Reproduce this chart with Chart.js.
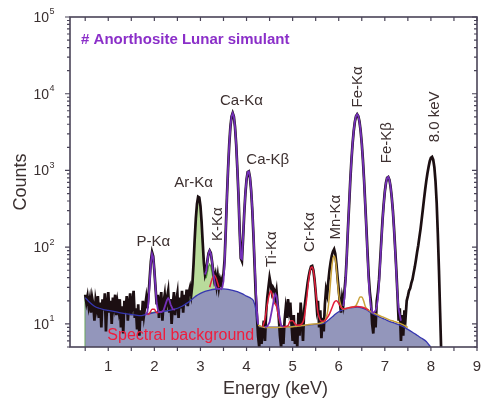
<!DOCTYPE html>
<html>
<head>
<meta charset="utf-8">
<title>Anorthosite Lunar simulant - XRF spectrum</title>
<script src="https://cdn.jsdelivr.net/npm/chart.js@4.4.0/dist/chart.umd.min.js"></script>
<style>
    body { margin: 0; background: #fff; }
    canvas { display: block; }
</style>
</head>
<body>
<canvas id="spectrumChart" width="489" height="399"></canvas>
<script>
// measured spectrum (counts per channel, 0.025 keV channels)
var energy = [
    0.5,0.525,0.55,0.575,0.6,0.625,0.65,0.675,0.7,0.725,
    0.75,0.775,0.8,0.825,0.85,0.875,0.9,0.925,0.95,0.975,
    1,1.025,1.05,1.075,1.1,1.125,1.15,1.175,1.2,1.225,
    1.25,1.275,1.3,1.325,1.35,1.375,1.4,1.425,1.45,1.475,
    1.5,1.525,1.55,1.575,1.6,1.625,1.65,1.675,1.7,1.725,
    1.75,1.775,1.8,1.825,1.85,1.875,1.9,1.925,1.95,1.975,
    2,2.025,2.05,2.075,2.1,2.125,2.15,2.175,2.2,2.225,
    2.25,2.275,2.3,2.325,2.35,2.375,2.4,2.425,2.45,2.475,
    2.5,2.525,2.55,2.575,2.6,2.625,2.65,2.675,2.7,2.725,
    2.75,2.775,2.8,2.825,2.85,2.875,2.9,2.925,2.95,2.975,
    3,3.025,3.05,3.075,3.1,3.125,3.15,3.175,3.2,3.225,
    3.25,3.275,3.3,3.325,3.35,3.375,3.4,3.425,3.45,3.475,
    3.5,3.525,3.55,3.575,3.6,3.625,3.65,3.675,3.7,3.725,
    3.75,3.775,3.8,3.825,3.85,3.875,3.9,3.925,3.95,3.975,
    4,4.025,4.05,4.075,4.1,4.125,4.15,4.175,4.2,4.225,
    4.25,4.275,4.3,4.325,4.35,4.375,4.4,4.425,4.45,4.475,
    4.5,4.525,4.55,4.575,4.6,4.625,4.65,4.675,4.7,4.725,
    4.75,4.775,4.8,4.825,4.85,4.875,4.9,4.925,4.95,4.975,
    5,5.025,5.05,5.075,5.1,5.125,5.15,5.175,5.2,5.225,
    5.25,5.275,5.3,5.325,5.35,5.375,5.4,5.425,5.45,5.475,
    5.5,5.525,5.55,5.575,5.6,5.625,5.65,5.675,5.7,5.725,
    5.75,5.775,5.8,5.825,5.85,5.875,5.9,5.925,5.95,5.975,
    6,6.025,6.05,6.075,6.1,6.125,6.15,6.175,6.2,6.225,
    6.25,6.275,6.3,6.325,6.35,6.375,6.4,6.425,6.45,6.475,
    6.5,6.525,6.55,6.575,6.6,6.625,6.65,6.675,6.7,6.725,
    6.75,6.775,6.8,6.825,6.85,6.875,6.9,6.925,6.95,6.975,
    7,7.025,7.05,7.075,7.1,7.125,7.15,7.175,7.2,7.225,
    7.25,7.275,7.3,7.325,7.35,7.375,7.4,7.425,7.45,7.475,
    7.5,7.525,7.55,7.575,7.6,7.625,7.65,7.675,7.7,7.725,
    7.75,7.775,7.8,7.825,7.85,7.875,7.9,7.925,7.95,7.975,
    8,8.025,8.05,8.075,8.1,8.125,8.15,8.175,8.2,8.225,
    8.25
];
var counts = [
    24,19,23,17,21,14,22,18,11,20,
    16,23,12,19,9,21,15,25,8,18,
    26,14,20,10,22,17,24,13,19,15,
    21,9,17,7.5,20,14,23,11,18,25,
    13,19,27,12,16,8.5,18,7,15,11,
    20,13,17,22,16,24,40,66,86,76,
    50,30,18,24,12,20,26,11,19,24,
    15,22,27,14,21,10,18,26,13,20,
    25,12,22,16,27,14,24,18,28,17,
    26,30,24,33,60,126,237,367,454,444,
    344,214,113,62,44,50,66,83,90,84,
    66,50,38,44,32,42,30,38,33,40,
    45,70,170,455,1070,2200,3700,5050,5600,5050,
    3700,2200,1070,480,170,72,66,130,275,500,
    760,950,970,805,550,305,142,58,24,13,
    7,5,9,5.5,8,11,6,14,22,30,
    40,33,26,30,28,22,27,18,12,7,
    5,9,5.5,11,16,12,21,15,19,10,
    6,13,5.5,9,5,14,7,19,11,6,
    15,20,26,34,42,50,56,57,50,38,
    26,16,20,9,15,6.5,12,8,18,28,
    24,36,50,64,78,88,94,82,60,40,
    28,19,14,22,18,27,40,78,172,350,
    720,1330,2200,3250,4300,5100,5400,5100,4350,3300,
    2250,1370,750,370,180,85,42,26,19,10,
    7.5,14,9,20,26,38,68,125,225,360,
    530,690,800,820,755,615,450,300,175,95,
    50,24,11,16,6,13,7,15,12,20,
    23,27,29,34,38,46,55,68,86,105,
    135,172,230,310,420,560,730,920,1120,1320,
    1460,1500,1380,1100,720,380,150,50,14,4,
    2
];

// total fit (purple), null = gap between fitted regions
var fitEnergy = [
    1.8,1.825,1.85,1.875,1.9,1.925,1.95,1.975,2,2.025,2.05,2.075,2.1,2.15,2.2,2.25,2.275,2.3,2.325,2.35,2.4,2.45,
    2.46,
    3.1,3.125,3.15,3.175,3.2,3.225,3.25,3.275,3.3,3.325,3.35,3.4,3.45,3.475,3.5,3.525,3.55,3.575,3.6,3.625,
    3.65,3.675,3.7,3.725,3.75,3.775,3.8,3.825,3.85,3.875,3.9,3.925,3.95,3.975,4,4.025,4.05,4.075,4.1,4.125,
    4.15,4.175,4.2,4.225,4.25,
    4.3,
    4.4,4.45,4.5,4.55,4.6,4.625,4.65,4.7,4.75,4.8,
    4.9,
    6.1,6.125,6.15,6.175,6.2,6.225,6.25,6.275,6.3,6.325,6.35,6.375,6.4,6.425,6.45,6.475,6.5,6.525,6.55,6.575,
    6.6,6.625,6.65,6.675,6.7,6.725,6.75,6.775,6.8,6.825,6.85,6.875,6.9,6.925,6.95,6.975,7,7.025,7.05,7.075,
    7.1,7.125,7.15,7.175,7.2,7.225,7.25,7.275,7.3,7.35
];
var fitCounts = [
    13.2,13.4,14.5,20,36,62,82,74,50,30,19,15.5,14.3,14.3,15,18.5,20.5,21.5,20.5,18,15.5,15.3,
    null,
    44,49,65,82,90,83,66,48,37,31,29,28.6,28.8,30,36,64,164,452,1071,2211,
    3703,5050,5600,5050,3703,2211,1071,478,164,72,70,133,278,506,768,956,975,813,557,315,
    151,66,30,15,10,
    null,
    9.1,9.3,10.5,15,22,24.5,23,14,9.6,9.2,
    null,
    17,22,37,76,170,356,732,1346,2221,3276,4326,5111,5400,5111,4326,3276,2221,1346,732,356,
    170,76,37,22,16.5,14.5,14,14.3,15,17,21,34,62,119,216,353,520,683,796,824,
    758,620,451,293,170,90,46,24,15.5,11
];

// spectral background
var bgEnergy = [
    0.5,0.6,0.7,0.8,0.9,1,1.2,1.4,1.6,1.7,1.8,1.9,2,2.2,2.4,2.6,2.7,2.8,2.9,3,
    3.1,3.2,3.3,3.4,3.5,3.6,3.7,3.8,3.9,4,4.1,4.15,4.2,4.225,4.25,4.3,4.4,4.6,4.8,5,
    5.2,5.4,5.6,5.7,5.8,5.9,6,6.1,6.2,6.3,6.4,6.5,6.6,6.7,6.8,6.9,7,7.1,7.2,7.3,
    7.4,7.5,7.6,7.7,7.8,7.9,7.95,8,8.03
];
var bgCounts = [
    22,19,17,16,15.4,15,14.2,13.5,13,12.8,13.2,13.6,14,14.5,15.3,17,18.5,20.5,23,25,
    26.5,27.5,28.3,28.6,28.6,28.2,27.4,26.3,24.8,23,21.5,20,15.5,11.5,9.8,9.3,9.1,9.1,9.2,9.3,
    9.5,9.8,10,10.3,11.5,13,14.4,15.3,15.9,16.3,16.5,16.2,15.3,14,13,12.2,11.5,10.8,10.3,9.8,
    9.2,8.5,7.8,7.1,6.5,5.9,5.4,4.9,4.4
];

// Ar-K / K-K components (green, filled)
var arEnergy = [
    0.5,0.5,0.6,0.7,0.8,1,1.1,1.15,1.2,1.225,1.25,1.3,1.4,1.6,1.7,1.8,2,2.2,2.4,2.6,
    2.7,2.75,2.8,2.825,2.85,2.875,2.9,2.925,2.95,2.975,3,3.025,3.05,3.075,3.1,3.125,3.15,3.175,3.2,3.225,
    3.25,3.275,3.3,3.35,3.4,3.45
];
var arCounts = [
    1,23,19.3,17.2,16.2,15.2,14.8,15.5,18,19,17.5,14.8,13.7,13.2,13,13.4,14.2,14.7,15.5,17.2,
    18.7,19.6,23,33,60,126,237,367,454,444,344,214,113,58,40,40,47,56,60,56,
    47,39,33,29.5,28.8,28.7
];

// Ti / Cr components (red)
var crEnergy = [
    1.85,1.9,1.95,2,2.05,2.1,2.11,
    3.2,3.25,3.3,3.35,3.4,3.41,
    4.35,4.4,4.45,4.5,4.525,4.55,4.6,4.65,4.7,4.75,4.8,4.9,4.95,5,5.05,5.1,5.2,5.25,5.3,5.325,
    5.35,5.375,5.4,5.425,5.45,5.475,5.5,5.525,5.55,5.6,5.65,5.7,5.75,5.8,5.85,5.9,5.95,6,6.05,6.1,
    6.2,6.3,6.4,6.5,6.6,6.65
];
var crCounts = [
    13.2,13.8,15.5,15.5,14,14.2,null,
    30,38,43,38,30,null,
    9.2,11.5,18,25,27,25,19,17,12,9.6,9.2,9.5,11,11,10,9.6,10,12,20,28,
    38,48,54,55,49,38,27,19,14,11.2,10.8,11,12,13.5,16,19,20,18.5,16.5,15.7,
    16.1,16.6,16.9,16.6,15.7,15
];

// Mn component + escape (yellow)
var mnEnergy = [
    4.25,4.4,4.6,4.8,5,5.2,5.4,5.6,5.7,5.75,5.775,5.8,5.825,5.85,5.875,5.9,5.925,5.95,5.975,6,
    6.05,6.1,6.2,6.3,6.375,6.425,6.46,6.5,6.54,6.575,6.6,6.7,6.8,6.9,7,7.1,7.2,7.3,7.4,7.5
];
var mnCounts = [
    9.6,9,9,9.1,9.2,9.5,9.9,10.2,11,13.5,17,24,37,55,71,77,70,53,35,24,
    17,15.6,16.1,16.6,17.4,20,22.5,22.5,20,17,16,14.5,13.5,12.7,12,11.3,10.8,10.3,9.7,9
];

// axis ticks
var xTickValues = [1, 2, 3, 4, 5, 6, 7, 8, 9];
var xMinorValues = [0.5, 1.5, 2.5, 3.5, 4.5, 5.5, 6.5, 7.5, 8.5];
var yDecades = [10, 100, 1000, 10000, 100000];

// peak labels (anchored in keV / counts)
var labelText = ['P-K\u03b1', 'Ar-K\u03b1', 'K-K\u03b1', 'Ca-K\u03b1', 'Ca-K\u03b2', 'Ti-K\u03b1', 'Cr-K\u03b1', 'Mn-K\u03b1', 'Fe-K\u03b1', 'Fe-K\u03b2', '8.0 keV'];
var labelEnergy = [1.98, 2.85, 3.37, 3.89, 4.46, 4.54, 5.37, 5.93, 6.41, 7.04, 8.09];
var labelCounts = [116, 680, 199, 8100, 1380, 94, 157, 246, 12300, 2300, 5000];
var labelVertical = [false, false, true, false, false, true, true, true, true, true, true];

var FONT = '"Liberation Sans", Arial, Helvetica, sans-serif';

function toPoints(xs, ys) {
    return xs.map(function (x, i) { return { x: x, y: ys[i] }; });
}

var yMinorValues = [5, 6, 7, 8, 9];
yDecades.forEach(function (d) {
    for (var k = 2; k <= 9; k++) {
        if (d * k < 100000) yMinorValues.push(d * k);
    }
});

var decorPlugin = {
    id: 'decor',
    afterDatasetsDraw: function (chart) {
        var ctx = chart.ctx, a = chart.chartArea;
        var xs = chart.scales.x, ys = chart.scales.y;
        ctx.save();

        // frame
        ctx.strokeStyle = '#4a4458';
        ctx.lineWidth = 1.6;
        ctx.strokeRect(a.left, a.top, a.right - a.left, a.bottom - a.top);

        // ticks
        ctx.lineWidth = 1.2;
        ctx.beginPath();
        xTickValues.concat(xMinorValues).forEach(function (v) {
            var px = xs.getPixelForValue(v);
            ctx.moveTo(px, a.bottom); ctx.lineTo(px, a.bottom + 4);
            ctx.moveTo(px, a.top); ctx.lineTo(px, a.top + 4);
        });
        yDecades.forEach(function (v) {
            var py = ys.getPixelForValue(v);
            ctx.moveTo(a.left - 5, py); ctx.lineTo(a.left, py);
            ctx.moveTo(a.right - 5, py); ctx.lineTo(a.right, py);
        });
        yMinorValues.forEach(function (v) {
            var py = ys.getPixelForValue(v);
            ctx.moveTo(a.left - 3, py); ctx.lineTo(a.left, py);
            ctx.moveTo(a.right - 3, py); ctx.lineTo(a.right, py);
        });
        ctx.stroke();

        // tick labels
        ctx.fillStyle = '#3a3030';
        ctx.textBaseline = 'middle';
        ctx.textAlign = 'center';
        ctx.font = '15px ' + FONT;
        xTickValues.forEach(function (v) {
            ctx.fillText(String(v), xs.getPixelForValue(v), a.bottom + 20);
        });
        yDecades.forEach(function (v) {
            var py = ys.getPixelForValue(v);
            var exp = Math.round(Math.log10(v));
            ctx.font = '14px ' + FONT;
            ctx.textAlign = 'right';
            ctx.fillText('10', a.left - 21, py + 1);
            ctx.font = '9px ' + FONT;
            ctx.textAlign = 'left';
            ctx.fillText(String(exp), a.left - 20.5, py - 5);
        });

        // axis titles
        ctx.font = '18px ' + FONT;
        ctx.textAlign = 'center';
        ctx.fillText('Energy (keV)', (a.left + a.right) / 2 + 2, a.bottom + 42);
        ctx.save();
        ctx.translate(21, (a.top + a.bottom) / 2);
        ctx.rotate(-Math.PI / 2);
        ctx.fillText('Counts', 0, 0);
        ctx.restore();

        // peak labels
        ctx.font = '15px ' + FONT;
        ctx.fillStyle = '#3d3030';
        labelText.forEach(function (t, i) {
            var px = xs.getPixelForValue(labelEnergy[i]);
            var py = ys.getPixelForValue(labelCounts[i]);
            ctx.save();
            ctx.translate(px, py);
            if (labelVertical[i]) ctx.rotate(-Math.PI / 2);
            ctx.textAlign = 'center';
            ctx.fillText(t, 0, 0);
            ctx.restore();
        });

        // sample name and background caption
        ctx.textAlign = 'left';
        ctx.font = 'bold 15px ' + FONT;
        ctx.fillStyle = '#8b2fc9';
        ctx.fillText('# Anorthosite Lunar simulant', xs.getPixelForValue(0.41), ys.getPixelForValue(50000));
        ctx.font = '16px ' + FONT;
        ctx.fillStyle = '#f01c3c';
        ctx.fillText('Spectral background', xs.getPixelForValue(0.98), ys.getPixelForValue(7));

        ctx.restore();
    }
};

var spectrumChart = new Chart(document.getElementById('spectrumChart'), {
    type: 'line',
    data: {
        datasets: [
            {
                label: 'Fit',
                data: toPoints(fitEnergy, fitCounts),
                borderColor: '#7430b8',
                borderWidth: 1.8,
                pointRadius: 0,
                spanGaps: false,
                order: 1
            },
            {
                label: 'Cr / Ti',
                data: toPoints(crEnergy, crCounts),
                borderColor: '#e3203c',
                borderWidth: 1.5,
                pointRadius: 0,
                cubicInterpolationMode: 'monotone',
                spanGaps: false,
                order: 2
            },
            {
                label: 'Mn',
                data: toPoints(mnEnergy, mnCounts),
                borderColor: '#c9a23a',
                borderWidth: 1.5,
                pointRadius: 0,
                cubicInterpolationMode: 'monotone',
                order: 2
            },
            {
                label: 'Background line',
                data: toPoints(bgEnergy, bgCounts),
                borderColor: '#3636b0',
                borderWidth: 1.3,
                pointRadius: 0,
                cubicInterpolationMode: 'monotone',
                order: 2
            },
            {
                label: 'Measured',
                data: toPoints(energy, counts),
                borderColor: '#1c0f12',
                borderWidth: 2.7,
                pointRadius: 0,
                order: 3
            },
            {
                label: 'Spectral background',
                data: toPoints(bgEnergy, bgCounts),
                borderWidth: 0,
                backgroundColor: '#9396bb',
                fill: 'start',
                pointRadius: 0,
                cubicInterpolationMode: 'monotone',
                order: 5
            },
            {
                label: 'Ar-K',
                data: toPoints(arEnergy, arCounts),
                borderColor: '#4f9a3a',
                borderWidth: 1.3,
                backgroundColor: '#b9db9b',
                fill: 'start',
                pointRadius: 0,
                order: 6
            }
        ]
    },
    options: {
        responsive: false,
        devicePixelRatio: 1,
        animation: false,
        layout: { padding: { left: 0, right: 12, top: 17, bottom: 0 } },
        scales: {
            x: {
                type: 'linear',
                min: 0.17,
                max: 9,
                grid: { display: false },
                border: { display: false },
                ticks: { display: false },
                afterFit: function (scale) { scale.height = 52; }
            },
            y: {
                type: 'logarithmic',
                min: 5,
                max: 100000,
                grid: { display: false },
                border: { display: false },
                ticks: { display: false },
                afterFit: function (scale) { scale.width = 70; }
            }
        },
        plugins: {
            legend: { display: false },
            tooltip: { enabled: false }
        }
    },
    plugins: [decorPlugin]
});
</script>
</body>
</html>
